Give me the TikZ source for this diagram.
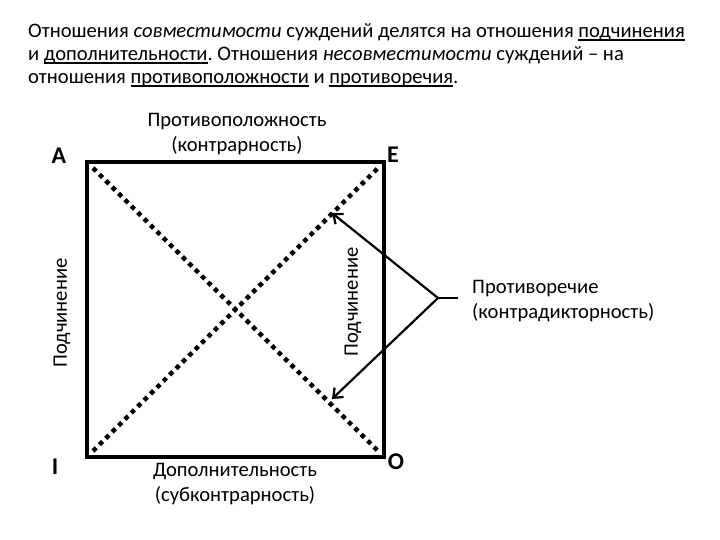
\documentclass[tikz,border=0pt]{standalone}
\usepackage{fontspec}
\setmainfont{Carlito}
\usetikzlibrary{arrows.meta}
\frenchspacing
\newcommand\ulx[1]{\setbox0\hbox{#1}\rlap{\rule[-2.6pt]{\wd0}{1.3pt}}#1}
\begin{document}
\begin{tikzpicture}[x=1pt,y=-1pt,
  txt/.style={font=\fontsize{20.6}{24}\selectfont, inner sep=0pt},
  lbl/.style={font=\fontsize{20.6}{24.5}\selectfont, inner sep=0pt, align=center},
  corner/.style={font=\fontsize{24}{28}\selectfont\bfseries, inner sep=0pt},
  frame/.style={line width=4.5pt, line join=miter},
  diag/.style={line width=4.5pt, dash pattern=on 4.5pt off 4.5pt},
  arr/.style={line width=2.2pt, -{Straight Barb[length=8pt,width=13pt,line width=2.2pt]}},
  tick/.style={line width=2.2pt}]
\useasboundingbox (0,0) rectangle (720,540);
\fill[white] (0,0) rectangle (720,540);
% heading
\node[txt, anchor=base west] (h1) at (28,38) {Отношения \textit{совместимости} суждений делятся на отношения \ulx{подчинения}};
\node[txt, anchor=base west] (h2) at (28,61) {и \ulx{дополнительности}. Отношения \textit{несовместимости} суждений – на};
\node[txt, anchor=base west] (h3) at (28,84) {отношения \ulx{противоположности} и \ulx{противоречия}.};
% square corners
\coordinate (cA) at (87,162);
\coordinate (cE) at (384,162);
\coordinate (cO) at (384,457);
\coordinate (cI) at (87,457);
\draw[frame] (cA) -- (cE) -- (cO) -- (cI) -- cycle;
% diagonals
\coordinate (dA) at (93,168);
\coordinate (dE) at (378,168);
\coordinate (dO) at (378,451);
\coordinate (dI) at (93,451);
\draw[diag] (dA) -- (dO);
\draw[diag] (dI) -- (dE);
% corner letters
\node[corner] (A) at (59,156) {A};
\node[corner] (E) at (393,155) {E};
\node[corner] (I) at (55,467) {I};
\node[corner] (O) at (396,462) {O};
% side labels
\node[lbl] (top) at (237,134) {Противоположность\\(контрарность)};
\node[lbl] (bot) at (235,484) {Дополнительность\\(субконтрарность)};
\node[lbl, rotate=90] (left) at (62,313) {Подчинение};
\node[lbl, rotate=90] (right) at (353,302) {Подчинение};
\node[lbl, align=left, anchor=west] (contr) at (472,301) {Противоречие\\(контрадикторность)};
% contradiction arrows
\coordinate (v) at (438,298);
\coordinate (vt) at (458,298);
\coordinate (t1) at (332,213);
\coordinate (t2) at (332,399);
\draw[tick] (v) -- (vt);
\draw[arr] (v) -- (t1);
\draw[arr] (v) -- (t2);
\end{tikzpicture}
\end{document}
